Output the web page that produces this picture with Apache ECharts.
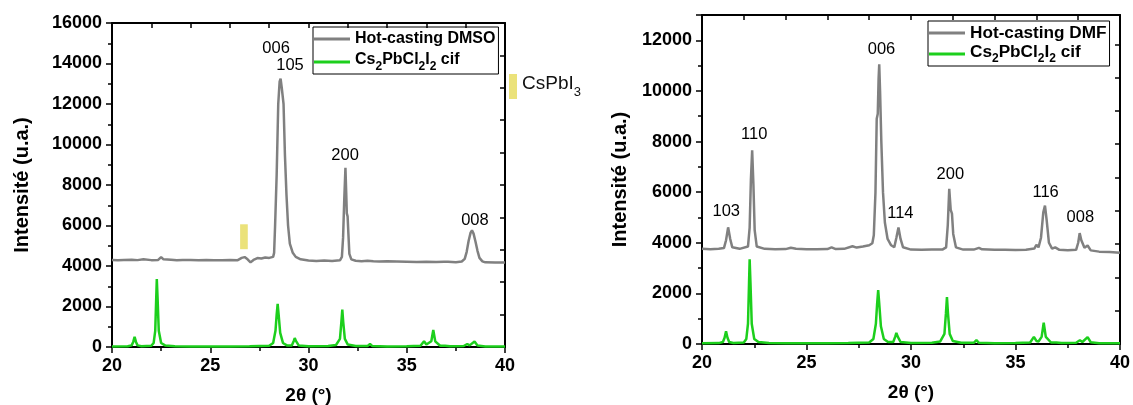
<!DOCTYPE html>
<html><head><meta charset="utf-8">
<script src="https://cdn.jsdelivr.net/npm/echarts@6/dist/echarts.min.js"></script>
<style>html,body{margin:0;padding:0;background:#fff}#c{width:1133px;height:405px}</style>
</head><body><div id="c"></div>
<script>
// ---------- data ----------
const xRange = [20, 40];
const xTickStep = 5;
const dmsoYRange = [0, 16000];
const dmfYRange = [0, 13000];
const yTickStep = 2000;

// Hot-casting DMSO pattern (2θ, intensity)
const dmsoPattern = [
  [20.0,4300],[20.3,4280],[20.6,4300],[21.0,4310],[21.3,4290],[21.6,4330],[22.0,4290],[22.35,4300],[22.5,4440],[22.62,4330],
  [23.0,4310],[23.3,4280],[23.6,4300],[24.0,4300],[24.4,4280],[24.8,4300],[25.2,4280],[25.6,4290],[26.0,4300],[26.4,4290],
  [26.6,4400],[26.75,4440],[26.9,4330],[27.05,4180],[27.2,4300],[27.4,4390],[27.6,4370],[27.8,4420],[28.0,4400],[28.1,4420],
  [28.2,4450],[28.25,4650],[28.3,6000],[28.38,8500],[28.46,12000],[28.53,13100],[28.58,13250],[28.64,12800],[28.73,12000],[28.8,9500],
  [28.88,7500],[28.96,6000],[29.05,5100],[29.2,4650],[29.35,4450],[29.6,4330],[30.0,4270],[30.4,4250],[30.8,4270],[31.2,4250],
  [31.6,4280],[31.7,4450],[31.76,5400],[31.82,7300],[31.88,8850],[31.92,7600],[31.95,6600],[31.99,6450],[32.03,5600],[32.08,4600],
  [32.18,4330],[32.4,4260],[32.7,4240],[33.0,4260],[33.3,4230],[33.6,4220],[34.0,4230],[34.5,4220],[35.0,4210],[35.5,4200],
  [36.0,4210],[36.5,4200],[36.9,4210],[37.0,4260],[37.1,4210],[37.5,4190],[37.8,4220],[37.95,4350],[38.05,4700],[38.15,5250],
  [38.25,5650],[38.32,5760],[38.4,5600],[38.5,5200],[38.6,4750],[38.7,4400],[38.85,4230],[39.0,4180],[39.5,4170],[40.0,4170]
];

// Hot-casting DMF pattern (2θ, intensity)
const dmfPattern = [
  [20.0,3760],[20.4,3740],[20.8,3760],[21.05,3790],[21.15,4100],[21.25,4610],[21.35,4150],[21.45,3820],[21.8,3760],[22.2,3850],
  [22.28,4600],[22.34,6500],[22.4,7650],[22.46,6300],[22.52,4500],[22.62,3850],[23.0,3760],[23.5,3740],[24.0,3750],[24.25,3800],
  [24.5,3760],[25.0,3740],[25.5,3740],[26.0,3750],[26.2,3820],[26.4,3750],[26.8,3760],[27.2,3860],[27.4,3810],[27.7,3850],
  [28.0,3900],[28.15,3980],[28.22,4300],[28.3,6000],[28.36,8900],[28.41,9100],[28.45,10500],[28.48,11050],[28.52,10000],[28.58,8000],
  [28.66,6000],[28.75,4800],[28.88,4150],[29.05,3900],[29.2,3820],[29.3,4200],[29.4,4600],[29.5,4150],[29.62,3820],[30.0,3730],
  [30.5,3720],[31.0,3730],[31.5,3730],[31.68,3820],[31.76,4700],[31.83,6130],[31.9,5300],[31.96,5150],[32.02,4350],[32.15,3820],
  [32.5,3730],[33.0,3730],[33.25,3800],[33.4,3740],[34.0,3720],[34.5,3720],[35.0,3710],[35.5,3720],[35.9,3770],[36.0,3920],
  [36.1,3820],[36.22,4200],[36.33,5200],[36.41,5470],[36.49,4900],[36.6,4000],[36.75,3770],[36.9,3820],[37.1,3720],[37.5,3700],
  [37.9,3720],[38.0,4000],[38.07,4380],[38.15,4100],[38.3,3800],[38.45,3890],[38.6,3700],[39.0,3650],[39.5,3640],[40.0,3610]
];

// Cs2PbCl2I2 cif simulated pattern (2θ, intensity)
const cifPattern = [
  [20.0,30],[20.8,35],[21.0,80],[21.08,250],[21.15,500],[21.22,250],[21.3,80],[21.5,40],[22.0,60],[22.12,200],
  [22.2,800],[22.25,2400],[22.28,3350],[22.32,2400],[22.38,800],[22.5,200],[22.7,80],[23.2,40],[24.0,30],[25.0,30],
  [26.0,30],[27.0,35],[28.0,60],[28.2,200],[28.32,800],[28.38,1600],[28.43,2130],[28.48,1600],[28.56,700],[28.7,200],
  [28.9,80],[29.15,80],[29.25,300],[29.3,440],[29.36,300],[29.5,80],[30.0,40],[31.0,50],[31.4,100],[31.6,400],
  [31.67,1200],[31.72,1850],[31.77,1200],[31.85,400],[32.0,120],[32.4,50],[33.0,45],[33.13,150],[33.25,45],[34.0,30],
  [35.0,35],[35.7,60],[35.88,280],[36.0,120],[36.1,100],[36.25,280],[36.35,840],[36.45,280],[36.7,60],[36.95,60],
  [37.2,35],[37.9,50],[38.08,150],[38.2,80],[38.45,270],[38.6,70],[39.0,30],[40.0,30]
];

// peak indexations: [text, 2θ, intensity]
const dmsoPeakLabels = [['006',28.35,14740],['105',29.06,13910],['200',31.86,9470],['008',38.47,6260]];
const dmfPeakLabels = [['103',21.16,5250],['110',22.5,8270],['006',28.59,11630],['114',29.49,5140],['200',31.88,6700],['116',36.44,5975],['008',38.1,4990]];

// CsPbI3 reference reflection band: [2θ from, 2θ to, intensity from, intensity to]
const csPbI3Band = [26.52, 26.91, 4830, 6060];

const seriesNames = ['Hot-casting DMSO', 'Hot-casting DMF', 'Cs2PbCl2I2 cif', 'CsPbI3'];

// ---------- styling ----------
const FONT = "'Liberation Sans', Arial, sans-serif";
const GRAY = '#808080';
const GREEN = '#1ccf1c';
const YELLOW = '#ebe27a';

const chart = echarts.init(document.getElementById('c'), null, {renderer: 'canvas'});

const axisLine = {show: true, onZero: false, lineStyle: {color: '#000', width: 2}};
const tickStyle = {color: '#000', width: 1.5};

function bottomX(g) {
  return {
    type: 'value', gridIndex: g, position: 'bottom', min: xRange[0], max: xRange[1], interval: xTickStep,
    axisLine, axisTick: {show: true, inside: false, length: 6, lineStyle: tickStyle},
    minorTick: {show: true, splitNumber: 2, length: 4, lineStyle: tickStyle},
    splitLine: {show: false},
    axisLabel: {color: '#000', fontSize: 18, fontWeight: 'bold', fontFamily: FONT, margin: 10, formatter: v => String(v)},
    name: '2θ (°)', nameLocation: 'middle', nameGap: 39,
    nameTextStyle: {color: '#000', fontSize: 19, fontWeight: 'bold', fontFamily: FONT}
  };
}
function topX(g) {
  return {
    type: 'value', gridIndex: g, position: 'top', min: xRange[0], max: xRange[1], interval: 2,
    axisLine, axisTick: {show: true, inside: true, length: 5, lineStyle: tickStyle},
    axisLabel: {show: false}, splitLine: {show: false}
  };
}
function leftY(g, range, gap) {
  return {
    type: 'value', gridIndex: g, position: 'left', min: range[0], max: range[1], interval: yTickStep,
    axisLine, axisTick: {show: true, inside: false, length: 6, lineStyle: tickStyle},
    minorTick: {show: true, splitNumber: 2, length: 4, lineStyle: tickStyle},
    splitLine: {show: false},
    axisLabel: {color: '#000', fontSize: 18, fontWeight: 'bold', fontFamily: FONT, margin: 10,
      showMaxLabel: range[1] % yTickStep === 0, formatter: v => String(v)},
    name: 'Intensité (u.a.)', nameLocation: 'middle', nameGap: gap,
    nameTextStyle: {color: '#000', fontSize: 20, fontWeight: 'bold', fontFamily: FONT}
  };
}
function rightY(g, max, minor) {
  return {
    type: 'value', gridIndex: g, position: 'right', min: 0, max: max, interval: 1,
    axisLine, axisTick: {show: true, inside: true, length: 5, lineStyle: tickStyle},
    minorTick: {show: minor, splitNumber: 2, length: 5, lineStyle: tickStyle},
    axisLabel: {show: false}, splitLine: {show: false}
  };
}

const richLegend = (size) => ({
  n: {fontSize: size, fontWeight: 'bold', fontFamily: FONT, color: '#000', lineHeight: 20, verticalAlign: 'top'},
  s: {fontSize: 12, fontWeight: 'bold', fontFamily: FONT, color: '#000', padding: [9, 0, 0, 0], verticalAlign: 'top'}
});
const cifFormatter = (name) => name === seriesNames[2] ? '{n|Cs}{s|2}{n|PbCl}{s|2}{n|I}{s|2}{n| cif}' : name;

function legend(names, left, top, size, gap) {
  return {
    data: names, left, top, orient: 'vertical', selectedMode: false,
    icon: 'rect', itemWidth: 36, itemHeight: 3, itemGap: gap,
    borderColor: '#000', borderWidth: 1, padding: [2, 3, 1, 1],
    formatter: cifFormatter,
    textStyle: {fontSize: size, fontWeight: 'bold', fontFamily: FONT, color: '#000', lineHeight: 20, rich: richLegend(size)}
  };
}

function peakLabelSeries(labels, xi, yi) {
  return {
    type: 'scatter', xAxisIndex: xi, yAxisIndex: yi, symbolSize: 2, silent: true,
    itemStyle: {color: 'rgba(0,0,0,0)'},
    data: labels.map(d => ({name: d[0], value: [d[1], d[2]]})),
    label: {show: true, position: 'inside', formatter: '{b}', color: '#000', fontSize: 16.5, fontFamily: FONT,
      textBorderWidth: 0, textShadowBlur: 0, opacity: 1},
    emphasis: {disabled: true},
    z: 5
  };
}

const option = {
  backgroundColor: '#fff',
  animation: false,
  grid: [
    {left: 112, top: 23, width: 393, height: 324, outerBoundsMode: 'none', containLabel: false},
    {left: 702, top: 15, width: 418, height: 329, outerBoundsMode: 'none', containLabel: false}
  ],
  xAxis: [bottomX(0), topX(0), bottomX(1), topX(1)],
  yAxis: [leftY(0, dmsoYRange, 80), rightY(0, 5, true), leftY(1, dmfYRange, 72), rightY(1, 9.88, false)],
  legend: [
    legend([seriesNames[0], seriesNames[2]], 313, 27, 16, 3),
    legend([seriesNames[1], seriesNames[2]], 928, 21, 17.2, 1),
    {
      data: [seriesNames[3]], left: 509, top: 74, selectedMode: false, icon: 'rect',
      itemWidth: 8, itemHeight: 25, padding: 0,
      formatter: () => '{n|CsPbI}{s|3}',
      textStyle: {rich: {
        n: {fontSize: 19, fontFamily: FONT, color: '#111', lineHeight: 22, verticalAlign: 'top'},
        s: {fontSize: 13, fontFamily: FONT, color: '#111', padding: [11, 0, 0, 0], verticalAlign: 'top'}
      }}
    }
  ],
  series: [
    {
      type: 'line', name: seriesNames[0], xAxisIndex: 0, yAxisIndex: 0, data: dmsoPattern,
      symbol: 'none', showSymbol: false, lineStyle: {color: GRAY, width: 2.5}, itemStyle: {color: GRAY}, z: 3,
      markArea: {silent: true, itemStyle: {color: YELLOW, opacity: 1},
        data: [[{xAxis: csPbI3Band[0], yAxis: csPbI3Band[2]}, {xAxis: csPbI3Band[1], yAxis: csPbI3Band[3]}]]}
    },
    {
      type: 'line', name: seriesNames[2], xAxisIndex: 0, yAxisIndex: 0, data: cifPattern,
      symbol: 'none', showSymbol: false, lineStyle: {color: GREEN, width: 2.5}, itemStyle: {color: GREEN}, z: 3
    },
    {
      type: 'line', name: seriesNames[1], xAxisIndex: 2, yAxisIndex: 2, data: dmfPattern,
      symbol: 'none', showSymbol: false, lineStyle: {color: GRAY, width: 2.5}, itemStyle: {color: GRAY}, z: 3
    },
    {
      type: 'line', name: seriesNames[2], xAxisIndex: 2, yAxisIndex: 2, data: cifPattern,
      symbol: 'none', showSymbol: false, lineStyle: {color: GREEN, width: 2.5}, itemStyle: {color: GREEN}, z: 3
    },
    {
      type: 'bar', name: seriesNames[3], xAxisIndex: 0, yAxisIndex: 0, data: [], itemStyle: {color: YELLOW}
    },
    peakLabelSeries(dmsoPeakLabels, 0, 0),
    peakLabelSeries(dmfPeakLabels, 2, 2)
  ]
};
chart.setOption(option);
</script>
</body></html>
